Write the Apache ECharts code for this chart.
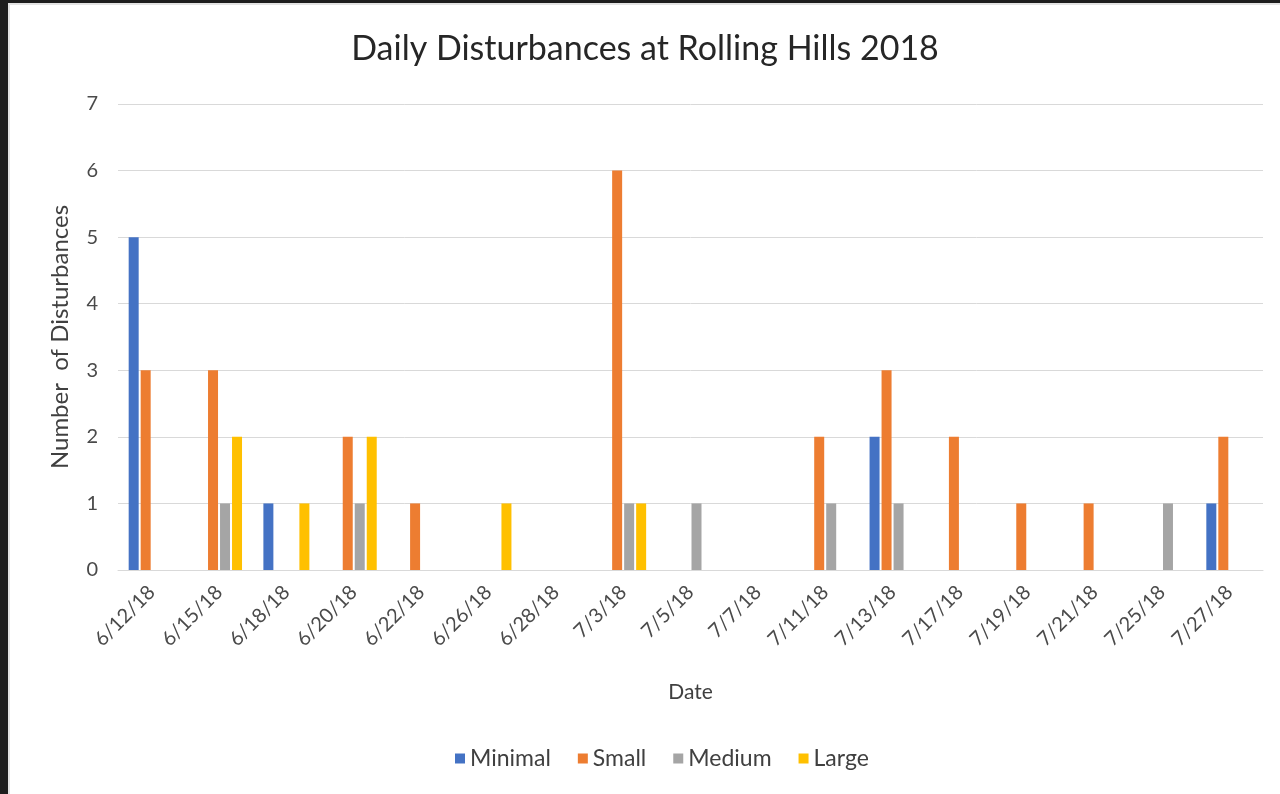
<!DOCTYPE html>
<html>
<head>
<meta charset="utf-8">
<script src="https://cdn.jsdelivr.net/npm/echarts@6/dist/echarts.min.js"></script>
<style>
  html, body { margin: 0; padding: 0; background: #1e1e1e; width: 1280px; height: 794px; overflow: hidden; }
  #chart { position: absolute; left: 8px; top: 3px; width: 1272px; height: 791px; background: #fff; box-sizing: border-box; border-left: 2px solid #e3e3e3; border-top: 2px solid #e3e3e3; }
</style>
</head>
<body>
<div id="chart"></div>
<script>
const dates = ['6/12/18', '6/15/18', '6/18/18', '6/20/18', '6/22/18', '6/26/18', '6/28/18', '7/3/18', '7/5/18',
  '7/7/18', '7/11/18', '7/13/18', '7/17/18', '7/19/18', '7/21/18', '7/25/18', '7/27/18'];
const minimal = [5, null, 1, null, null, null, null, null, null, null, null, 2, null, null, null, null, 1];
const small   = [3, 3, null, 2, 1, null, null, 6, null, null, 2, 3, 2, 1, 1, null, 2];
const medium  = [null, 1, null, 1, null, null, null, 1, 1, null, 1, 1, null, null, null, 1, null];
const large   = [null, 2, 1, 2, null, 1, null, 1, null, null, null, null, null, null, null, null, null];
const yTicks = [0, 1, 2, 3, 4, 5, 6, 7];

const font = 'Lato, "Open Sans", sans-serif';
const colors = ['#4472C4', '#ED7D31', '#A5A5A5', '#FFC000'];

function bar(name, data) {
    return { name: name, type: 'bar', data: data, barWidth: 10, barGap: '20%' };
}

const chart = echarts.init(document.getElementById('chart'), null, { renderer: 'canvas' });
chart.setOption({
    animation: false,
    color: colors,
    textStyle: { fontFamily: font },
    title: {
        text: 'Daily Disturbances at Rolling Hills 2018',
        left: 'center', top: 22,
        textStyle: { fontFamily: font, fontSize: 34, fontWeight: 'normal', color: '#262626' }
    },
    legend: {
        bottom: 19, left: 440,
        itemWidth: 10, itemHeight: 10, itemGap: 27, icon: 'rect',
        textStyle: { fontFamily: font, fontSize: 23, color: '#404040' }
    },
    grid: { left: 108, right: 17, top: 99, bottom: 224 },
    xAxis: {
        type: 'category', data: dates,
        name: 'Date', nameLocation: 'middle', nameGap: 112,
        nameTextStyle: { fontFamily: font, fontSize: 21, color: '#404040' },
        axisLine: { lineStyle: { color: '#d9d9d9', width: 1 } },
        axisTick: { show: false },
        axisLabel: { rotate: 45, fontFamily: font, fontSize: 20, color: '#4a4a4a', margin: 19, interval: 0 }
    },
    yAxis: {
        type: 'value', min: yTicks[0], max: yTicks[yTicks.length - 1], interval: 1,
        name: 'Number  of Disturbances', nameLocation: 'middle', nameGap: 46, nameRotate: 90,
        nameTextStyle: { fontFamily: font, fontSize: 24, color: '#404040' },
        axisLine: { show: false },
        axisTick: { show: false },
        axisLabel: { fontFamily: font, fontSize: 20, color: '#4a4a4a', margin: 20 },
        splitLine: { lineStyle: { color: '#d9d9d9', width: 1 } }
    },
    series: [
        bar('Minimal', minimal),
        bar('Small', small),
        bar('Medium', medium),
        bar('Large', large)
    ]
});
</script>
</body>
</html>
